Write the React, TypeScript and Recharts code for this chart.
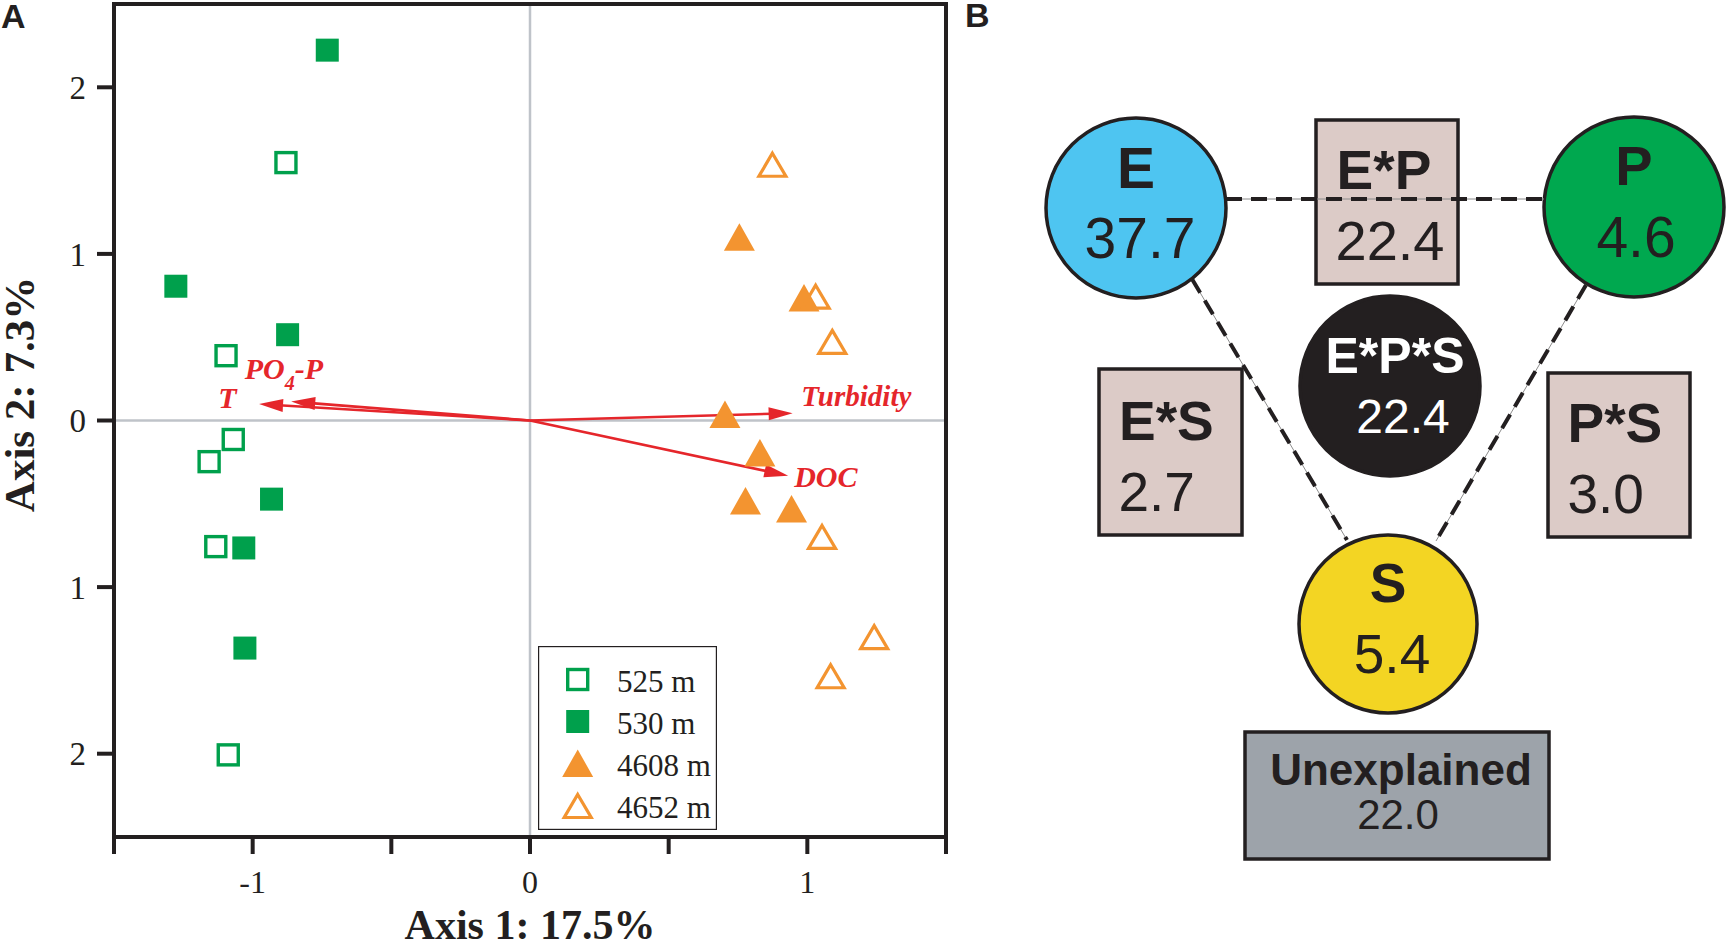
import React from "react";
import { ScatterChart, Scatter, XAxis, YAxis, ReferenceLine, Legend } from "recharts";

// ---------------- Panel A data ----------------
const xTicks = [-1.5, -1, -0.5, 0, 0.5, 1, 1.5];
const xTickLabels = ["", "-1", "", "0", "", "1", ""];
const yTicks = [-2, -1, 0, 1, 2];
const yTickLabels = ["2", "1", "0", "1", "2"];

const seriesNames = ["525 m", "530 m", "4608 m", "4652 m"];
const x525 = [-0.88, -1.096, -1.07, -1.157, -1.133, -1.088];
const y525 = [1.548, 0.389, -0.114, -0.247, -0.757, -2.007];
const x530 = [-0.731, -1.277, -0.874, -0.932, -1.032, -1.028];
const y530 = [2.223, 0.806, 0.515, -0.472, -0.765, -1.366];
const x4608 = [0.755, 0.988, 0.703, 0.829, 0.777, 0.943];
const y4608 = [1.1, 0.736, 0.036, -0.195, -0.483, -0.531];
const x4652 = [0.874, 1.03, 1.09, 1.053, 1.241, 1.084];
const y4652 = [1.538, 0.746, 0.475, -0.696, -1.297, -1.532];

const vectorNames = ["T", "PO4-P", "Turbidity", "DOC"];
const vectorX = [-0.977, -0.861, 0.947, 0.931];
const vectorY = [0.099, 0.114, 0.044, -0.332];

const axis1Title = "Axis 1: 17.5%";
const axis2Title = "Axis 2: 7.3%";

// ---------------- Panel B data ----------------
const fractionNames = ["E", "P", "S", "E*P", "E*S", "P*S", "E*P*S", "Unexplained"];
const fractionValues = [37.7, 4.6, 5.4, 22.4, 2.7, 3.0, 22.4, 22.0];
const linkFrom = ["E", "E", "P"];
const linkTo = ["P", "S", "S"];

// ---------------- styles / layout ----------------
const INK = "#231F20";
const GREEN = "#00A04C";
const ORANGE = "#F39430";
const RED = "#E5262B";
const ZERO_GREY = "#BFC3C9";
const SERIF = '"Liberation Serif", "Times New Roman", serif';
const SANS = '"Liberation Sans", Arial, sans-serif';

type LabelCfg = { dx: number; dy: number; size: number; anchor: "start" | "middle" | "end" };
type NodeCfg = {
  x: number; y: number; kind: "circle" | "box"; r?: number; w?: number; h?: number;
  fill: string; color: string; lab: LabelCfg; val: LabelCfg;
};

// diagram units: 1 unit = 100 px of panel B
const NODE_LAYOUT: Record<string, NodeCfg> = {
  E: { x: 1.76, y: 2.08, kind: "circle", r: 90, fill: "#4EC5F1", color: INK,
    lab: { dx: 0, dy: -20, size: 57, anchor: "middle" }, val: { dx: 4, dy: 50, size: 57, anchor: "middle" } },
  P: { x: 6.74, y: 2.07, kind: "circle", r: 90, fill: "#00A84F", color: INK,
    lab: { dx: 0, dy: -22, size: 56, anchor: "middle" }, val: { dx: 2, dy: 50, size: 57, anchor: "middle" } },
  S: { x: 4.28, y: 6.24, kind: "circle", r: 89, fill: "#F3D523", color: INK,
    lab: { dx: 0, dy: -22, size: 55, anchor: "middle" }, val: { dx: 4, dy: 49, size: 55, anchor: "middle" } },
  "E*P": { x: 4.27, y: 2.02, kind: "box", w: 142, h: 164, fill: "#DCCBC7", color: INK,
    lab: { dx: -3, dy: -13, size: 55, anchor: "middle" }, val: { dx: 3, dy: 58, size: 56, anchor: "middle" } },
  "E*S": { x: 2.105, y: 4.52, kind: "box", w: 143, h: 166, fill: "#DCCBC7", color: INK,
    lab: { dx: -51.5, dy: -12, size: 55, anchor: "start" }, val: { dx: -52, dy: 59, size: 55, anchor: "start" } },
  "P*S": { x: 6.59, y: 4.55, kind: "box", w: 142, h: 164, fill: "#DCCBC7", color: INK,
    lab: { dx: -51.5, dy: -13.4, size: 55, anchor: "start" }, val: { dx: -51.5, dy: 57.6, size: 55, anchor: "start" } },
  "E*P*S": { x: 4.3, y: 3.86, kind: "circle", r: 90, fill: INK, color: "#FFFFFF",
    lab: { dx: 5, dy: -13, size: 50, anchor: "middle" }, val: { dx: 13, dy: 47, size: 48, anchor: "middle" } },
  Unexplained: { x: 4.37, y: 7.955, kind: "box", w: 304, h: 127, fill: "#9DA3AA", color: INK,
    lab: { dx: 4, dy: -11, size: 44, anchor: "middle" }, val: { dx: 1, dy: 33, size: 42, anchor: "middle" } },
};

const LINK_LAYOUT: Record<string, number[][]> = {
  "E-P": [[2.66, 1.99], [5.84, 1.99]],
  "E-S": [[2.32, 2.79], [3.87, 5.4]],
  "P-S": [[6.26, 2.85], [4.76, 5.41]],
};

const VECTOR_LABEL: Record<string, LabelCfg> = {
  T: { dx: -22.5, dy: 4, size: 30, anchor: "end" },
  "PO4-P": { dx: -46.5, dy: -22.4, size: 30, anchor: "start" },
  Turbidity: { dx: 8.6, dy: -7.3, size: 29, anchor: "start" },
  DOC: { dx: 6, dy: 11, size: 30, anchor: "start" },
};

// ---------------- built series ----------------
const zip = (xs: number[], ys: number[]) => xs.map((x, i) => ({ x, y: ys[i] }));
const data525 = zip(x525, y525);
const data530 = zip(x530, y530);
const data4608 = zip(x4608, y4608);
const data4652 = zip(x4652, y4652);

const nodeData = fractionNames.map((name, i) => ({
  name,
  value: fractionValues[i],
  x: NODE_LAYOUT[name].x,
  y: NODE_LAYOUT[name].y,
}));

const linkData = linkFrom.map((f, i) => {
  const id = `${f}-${linkTo[i]}`;
  return { id, pts: LINK_LAYOUT[id].map(([x, y]) => ({ x, y })) };
});

// ---------------- marker shapes ----------------
const openSquare = (cx: number, cy: number) => (
  <rect x={cx - 10} y={cy - 10} width={20} height={20} fill="none" stroke={GREEN} strokeWidth={3.4} />
);
const filledSquare = (cx: number, cy: number) => (
  <rect x={cx - 11.5} y={cy - 11.5} width={23} height={23} fill={GREEN} />
);
const filledTri = (cx: number, cy: number) => (
  <path d={`M${cx},${cy - 14} L${cx + 15.5},${cy + 13.5} L${cx - 15.5},${cy + 13.5} Z`} fill={ORANGE} />
);
const openTri = (cx: number, cy: number) => (
  <path
    d={`M${cx},${cy - 11} L${cx + 13.5},${cy + 12} L${cx - 13.5},${cy + 12} Z`}
    fill="none"
    stroke={ORANGE}
    strokeWidth={3.2}
  />
);
const markerFns = [openSquare, filledSquare, filledTri, openTri];

const makeShape = (i: number) => (props: any) => {
  const { cx, cy } = props;
  if (!Number.isFinite(cx) || !Number.isFinite(cy)) return <g />;
  return <g>{markerFns[i](cx, cy)}</g>;
};

const makeArrow = (name: string) => (props: any) => {
  const { x1, y1, x2, y2 } = props;
  if (![x1, y1, x2, y2].every((v: any) => Number.isFinite(v))) return <g />;
  const dx = x2 - x1;
  const dy = y2 - y1;
  const len = Math.hypot(dx, dy) || 1;
  const ux = dx / len;
  const uy = dy / len;
  const nx = -uy;
  const ny = ux;
  const L = 24;
  const W = 6.5;
  const bx = x2 - ux * L;
  const by = y2 - uy * L;
  const cfg = VECTOR_LABEL[name];
  const parts = name.split(/(\d)/);
  return (
    <g>
      <line x1={x1} y1={y1} x2={bx + ux * 4} y2={by + uy * 4} stroke={RED} strokeWidth={2.6} />
      <path d={`M${x2},${y2} L${bx + nx * W},${by + ny * W} L${bx - nx * W},${by - ny * W} Z`} fill={RED} />
      <text
        x={x2 + cfg.dx}
        y={y2 + cfg.dy}
        textAnchor={cfg.anchor}
        fontFamily={SERIF}
        fontWeight="bold"
        fontStyle="italic"
        fontSize={cfg.size}
        fill={RED}
      >
        {parts.length === 3 ? (
          <>
            <tspan>{parts[0]}</tspan>
            <tspan fontSize={20} dy={11}>{parts[1]}</tspan>
            <tspan dy={-11}>{parts[2]}</tspan>
          </>
        ) : (
          name
        )}
      </text>
    </g>
  );
};

const renderLegend = () => (
  <svg width={179} height={184} style={{ display: "block" }}>
    <rect x={0.6} y={0.6} width={177.8} height={182.8} fill="#FFFFFF" stroke={INK} strokeWidth={1.2} />
    {seriesNames.map((n, i) => {
      const cy = 33.5 + i * 42;
      return (
        <g key={n}>
          {markerFns[i](39.7, cy)}
          <text x={79} y={cy + 12} fontSize={31} fontFamily={SERIF} fill={INK}>
            {n}
          </text>
        </g>
      );
    })}
  </svg>
);

const renderXTitle = (props: any) => {
  const vb = props.viewBox || {};
  return (
    <text
      x={vb.x + vb.width / 2}
      y={vb.y + 102}
      textAnchor="middle"
      fontFamily={SERIF}
      fontWeight="bold"
      fontSize={42}
      fill={INK}
    >
      {axis1Title}
    </text>
  );
};

const renderYTitle = (props: any) => {
  const vb = props.viewBox || {};
  const x = vb.x + 34;
  const y = vb.y + vb.height / 2 - 26;
  return (
    <text
      x={x}
      y={y}
      transform={`rotate(-90, ${x}, ${y})`}
      textAnchor="middle"
      fontFamily={SERIF}
      fontWeight="bold"
      fontSize={43}
      fill={INK}
    >
      {axis2Title}
    </text>
  );
};

// ---------------- panel B shapes ----------------
const NodeShape = (props: any) => {
  const { cx, cy, payload } = props;
  if (!Number.isFinite(cx) || !Number.isFinite(cy) || !payload) return <g />;
  const L = NODE_LAYOUT[payload.name];
  const sw = 3.5;
  const body =
    L.kind === "circle" ? (
      <circle cx={cx} cy={cy} r={L.r} fill={L.fill} stroke={INK} strokeWidth={sw} />
    ) : (
      <rect x={cx - L.w! / 2} y={cy - L.h! / 2} width={L.w} height={L.h} fill={L.fill} stroke={INK} strokeWidth={sw} />
    );
  return (
    <g>
      {body}
      <text
        x={cx + L.lab.dx}
        y={cy + L.lab.dy}
        textAnchor={L.lab.anchor}
        fontFamily={SANS}
        fontWeight="bold"
        fontSize={L.lab.size}
        fill={L.color}
      >
        {payload.name}
      </text>
      <text
        x={cx + L.val.dx}
        y={cy + L.val.dy}
        textAnchor={L.val.anchor}
        fontFamily={SANS}
        fontSize={L.val.size}
        fill={L.color}
      >
        {Number(payload.value).toFixed(1)}
      </text>
    </g>
  );
};

const EmptyShape = () => <g />;

export default function App() {
  return (
    <div style={{ position: "relative", width: 1727, height: 946, display: "flex", background: "#FFFFFF" }}>
      <style>{"html,body{margin:0;padding:0;background:#fff}"}</style>

      {/* Panel A */}
      <ScatterChart width={960} height={946} margin={{ top: 4, right: 14, bottom: 0, left: 0 }}>
        <XAxis
          type="number"
          dataKey="x"
          domain={[-1.5, 1.5]}
          ticks={xTicks}
          interval={0}
          allowDataOverflow
          height={109}
          tickFormatter={(v: number) => xTickLabels[xTicks.indexOf(v)] ?? ""}
          axisLine={{ stroke: INK, strokeWidth: 4 }}
          tickLine={{ stroke: INK, strokeWidth: 4 }}
          tickSize={17}
          tickMargin={16}
          tick={{ fill: INK, fontSize: 32, fontFamily: SERIF }}
          label={{ content: renderXTitle }}
        />
        <YAxis
          type="number"
          dataKey="y"
          domain={[-2.5, 2.5]}
          ticks={yTicks}
          interval={0}
          allowDataOverflow
          width={114}
          tickFormatter={(v: number) => yTickLabels[yTicks.indexOf(v)] ?? ""}
          axisLine={{ stroke: INK, strokeWidth: 4 }}
          tickLine={{ stroke: INK, strokeWidth: 4 }}
          tickSize={17}
          tickMargin={11}
          tick={{ fill: INK, fontSize: 33, fontFamily: SERIF }}
          label={{ content: renderYTitle }}
        />
        <ReferenceLine x={0} stroke={ZERO_GREY} strokeWidth={2.5} />
        <ReferenceLine y={0} stroke={ZERO_GREY} strokeWidth={2.5} />
        <ReferenceLine y={2.5} stroke={INK} strokeWidth={4} strokeLinecap="square" />
        <ReferenceLine x={1.5} stroke={INK} strokeWidth={4} strokeLinecap="square" />
        <Scatter name={seriesNames[0]} data={data525} shape={makeShape(0)} fill={GREEN} isAnimationActive={false} />
        <Scatter name={seriesNames[1]} data={data530} shape={makeShape(1)} fill={GREEN} isAnimationActive={false} />
        <Scatter name={seriesNames[2]} data={data4608} shape={makeShape(2)} fill={ORANGE} isAnimationActive={false} />
        <Scatter name={seriesNames[3]} data={data4652} shape={makeShape(3)} fill={ORANGE} isAnimationActive={false} />
        {vectorNames.map((n, i) => (
          <ReferenceLine
            key={n}
            segment={[{ x: 0, y: 0 }, { x: vectorX[i], y: vectorY[i] }]}
            ifOverflow="visible"
            shape={makeArrow(n)}
          />
        ))}
        <Legend
          layout="horizontal"
          verticalAlign="middle"
          align="center"
          content={renderLegend}
          wrapperStyle={{ left: 538, top: 646, width: 179, height: 184 }}
        />
      </ScatterChart>

      {/* Panel B */}
      <ScatterChart width={767} height={946} margin={{ top: 0, right: 0, bottom: 0, left: 0 }}>
        <XAxis type="number" dataKey="x" domain={[0, 7.67]} hide allowDataOverflow />
        <YAxis type="number" dataKey="y" domain={[0, 9.46]} reversed hide allowDataOverflow />
        <Scatter data={nodeData} shape={NodeShape} isAnimationActive={false} />
        {linkData.map((lk) => (
          <Scatter
            key={lk.id + "-thin"}
            data={lk.pts}
            fill="#8C8C8C"
            line={{ stroke: "#8C8C8C", strokeWidth: 1 }}
            shape={EmptyShape}
            isAnimationActive={false}
          />
        ))}
        {linkData.map((lk) => (
          <Scatter
            key={lk.id + "-dash"}
            data={lk.pts}
            fill={INK}
            line={{ stroke: INK, strokeWidth: 4, strokeDasharray: "16 9" }}
            shape={EmptyShape}
            isAnimationActive={false}
          />
        ))}
      </ScatterChart>

      <svg
        width={1727}
        height={40}
        style={{ position: "absolute", left: 0, top: 0, pointerEvents: "none" }}
      >
        <text x={1} y={28} fontFamily={SANS} fontWeight="bold" fontSize={34} fill={INK}>
          A
        </text>
        <text x={965} y={27} fontFamily={SANS} fontWeight="bold" fontSize={34} fill={INK}>
          B
        </text>
      </svg>
    </div>
  );
}
